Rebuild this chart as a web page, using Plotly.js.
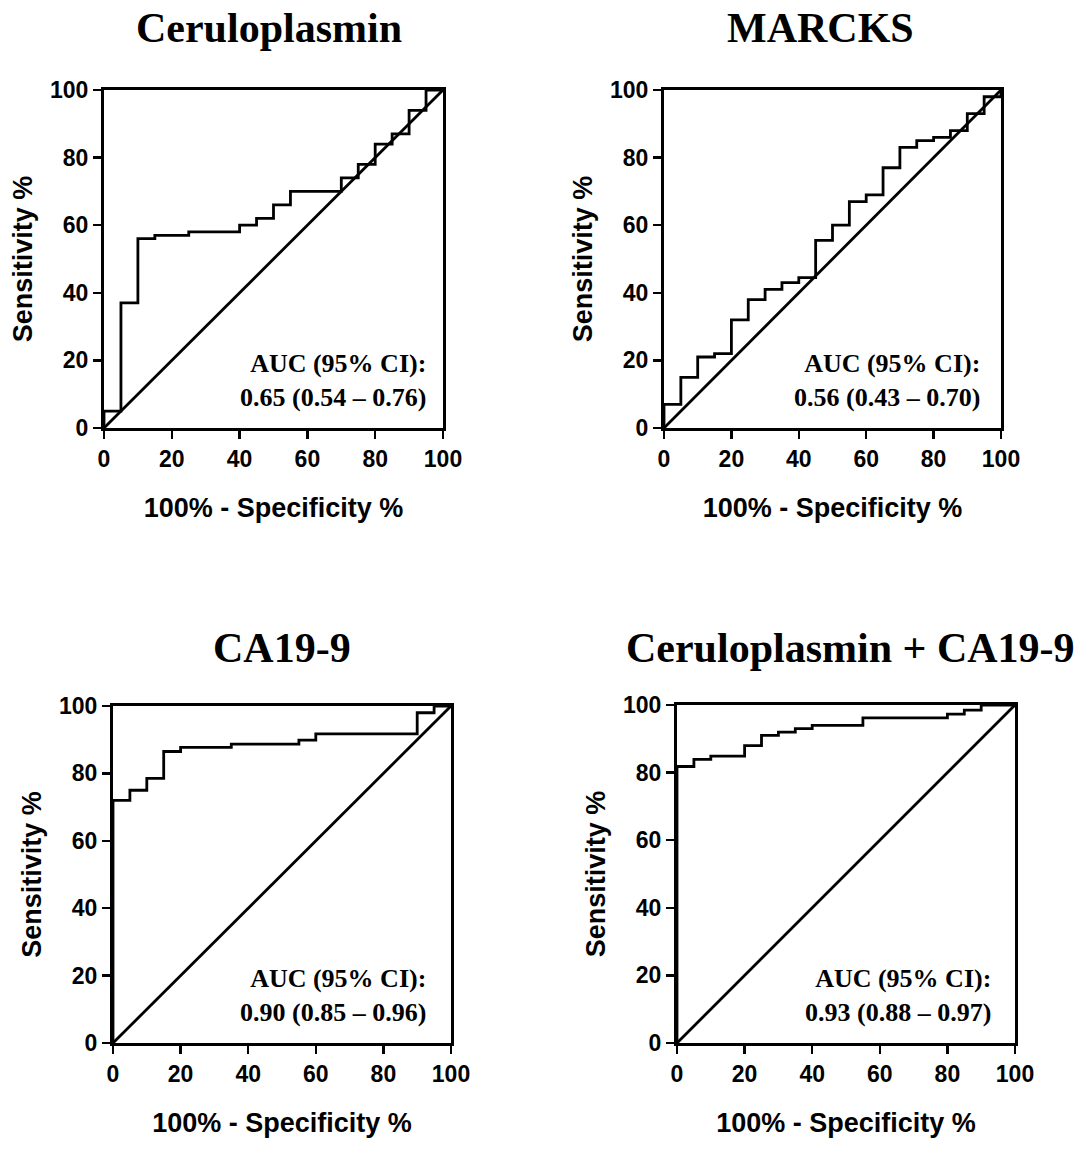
<!DOCTYPE html>
<html>
<head>
<meta charset="utf-8">
<script src="https://cdn.plot.ly/plotly-3.0.1.min.js"></script>
<style>
  html, body { margin: 0; padding: 0; background: #ffffff; }
  #chart { width: 1080px; height: 1150px; }
</style>
</head>
<body>
<div id="chart"></div>
<script>
// ---- Data ----
// 100% - Specificity % (x) and Sensitivity % (y) for each ROC curve
const cpFpr  = [0, 0, 5, 10, 15, 25, 40, 45, 50, 55, 70, 75, 80, 85, 90, 95, 100];
const cpSens = [0, 5, 37, 56, 57, 58, 60, 62, 66, 70, 74, 78, 84, 87, 94, 100, 100];

const mkFpr  = [0, 0, 5, 10, 15, 20, 25, 30, 35, 40, 45, 50, 55, 60, 65, 70, 75, 80, 85, 90, 95, 100];
const mkSens = [0, 7, 15, 21, 22, 32, 38, 41, 43, 44.5, 55.5, 60, 67, 69, 77, 83, 85, 86, 88, 93, 98, 100];

const caFpr  = [0, 0, 5, 10, 15, 20, 35, 55, 60, 90, 95, 100];
const caSens = [0, 72, 75, 78.5, 86.5, 87.7, 88.7, 89.9, 91.7, 98, 100, 100];

const cbFpr  = [0, 0, 5, 10, 20, 25, 30, 35, 40, 55, 80, 85, 90, 100];
const cbSens = [0, 81.8, 83.9, 84.9, 88, 91, 92, 93, 94, 96.2, 97.3, 98.5, 100, 100];

// Reference (chance) line
const diagX = [0, 100];
const diagY = [0, 100];

// Text
const panelTitles = ["Ceruloplasmin", "MARCKS", "CA19-9", "Ceruloplasmin + CA19-9"];
const aucTexts = [
  "AUC (95% CI):<br>0.65 (0.54 \u2013 0.76)",
  "AUC (95% CI):<br>0.56 (0.43 \u2013 0.70)",
  "AUC (95% CI):<br>0.90 (0.85 \u2013 0.96)",
  "AUC (95% CI):<br>0.93 (0.88 \u2013 0.97)"
];
const xTitle = "100% - Specificity %";
const yTitle = "Sensitivity %";
const tickVals = [0, 20, 40, 60, 80, 100];

// ---- Build figure ----
const W = 1080, H = 1150;
const series = [[cpFpr, cpSens], [mkFpr, mkSens], [caFpr, caSens], [cbFpr, cbSens]];

// plot-area pixel boxes [left, right, top, bottom]
const boxes = [
  [104, 443, 90, 428],
  [664, 1001, 90, 428],
  [113, 451, 706, 1043],
  [677, 1015, 705, 1043]
];
const titleCenters = [[269, 28], [820, 28], [282, 648], [850, 648]];
const aucX = [95.6, 94.3, 93.2, 93.5];

const sansBold = {family: "Liberation Sans, Arial, sans-serif", color: "#000", weight: "bold"};
const serifBold = {family: "Liberation Serif, Times New Roman, serif", color: "#000", weight: "bold"};

const traces = [];
const layout = {
  width: W, height: H,
  margin: {l: 0, r: 0, t: 0, b: 0},
  paper_bgcolor: "#ffffff",
  plot_bgcolor: "#ffffff",
  showlegend: false,
  annotations: []
};

series.forEach((s, i) => {
  const n = i + 1;
  const xa = "x" + (n === 1 ? "" : n);
  const ya = "y" + (n === 1 ? "" : n);
  traces.push({
    x: diagX, y: diagY, xaxis: xa, yaxis: ya, type: "scatter", mode: "lines",
    line: {color: "#000", width: 2.8}, hoverinfo: "skip", cliponaxis: false
  });
  traces.push({
    x: s[0], y: s[1], xaxis: xa, yaxis: ya, type: "scatter", mode: "lines",
    line: {color: "#000", width: 2.8, shape: "hv"}, cliponaxis: false
  });
  const b = boxes[i];
  const axCommon = {
    range: [0, 100], tickvals: tickVals, showgrid: false, zeroline: false,
    showline: true, linecolor: "#000", linewidth: 3, mirror: true,
    ticks: "outside", ticklen: 8, tickwidth: 2.5, tickcolor: "#000",
    tickfont: Object.assign({size: 23}, sansBold),
    automargin: false, fixedrange: true
  };
  layout["xaxis" + (n === 1 ? "" : n)] = Object.assign({}, axCommon, {
    domain: [b[0] / W, b[1] / W],
    anchor: ya,
    title: {text: xTitle, font: Object.assign({size: 27}, sansBold), standoff: 28}
  });
  layout["yaxis" + (n === 1 ? "" : n)] = Object.assign({}, axCommon, {
    domain: [1 - b[3] / H, 1 - b[2] / H],
    anchor: xa,
    title: {text: yTitle, font: Object.assign({size: 27}, sansBold), standoff: 10}
  });
  layout.annotations.push({
    text: panelTitles[i], xref: "paper", yref: "paper",
    x: titleCenters[i][0] / W, y: 1 - titleCenters[i][1] / H,
    xanchor: "center", yanchor: "middle", showarrow: false,
    font: Object.assign({size: 42}, serifBold)
  });
  layout.annotations.push({
    text: aucTexts[i], xref: xa, yref: ya,
    x: aucX[i], y: 14, xanchor: "right", yanchor: "middle", align: "right",
    showarrow: false, font: Object.assign({size: 26}, serifBold)
  });
});

Plotly.newPlot("chart", traces, layout, {displayModeBar: false, staticPlot: true});
</script>
</body>
</html>
